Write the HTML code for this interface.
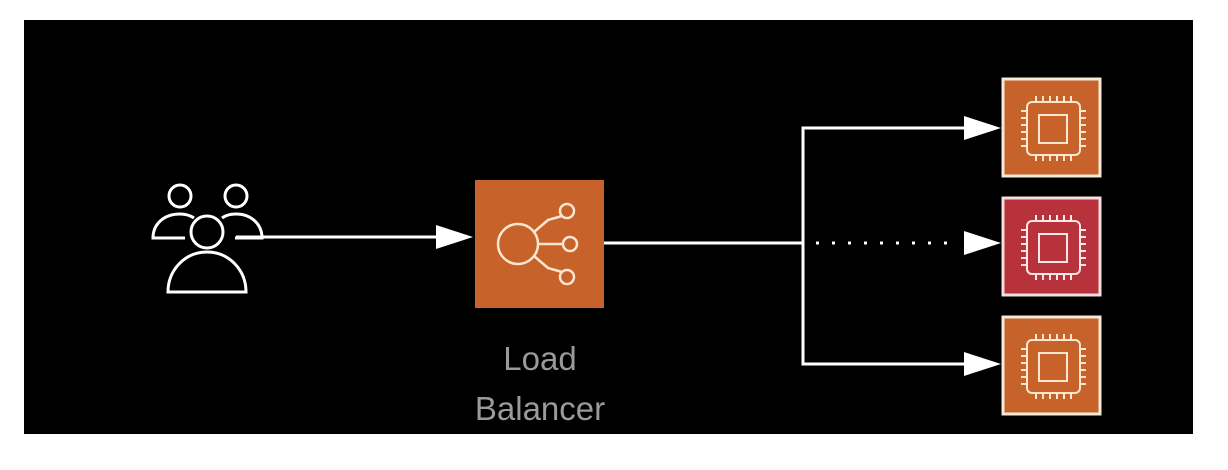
<!DOCTYPE html>
<html><head><style>
html,body{margin:0;padding:0;background:#fff;width:1228px;height:470px;overflow:hidden}
svg{display:block}
</style></head><body>
<svg width="1228" height="470" viewBox="0 0 1228 470" xmlns="http://www.w3.org/2000/svg">
<rect x="24" y="20" width="1169" height="414" fill="#000"/>
<!-- users -->
<g fill="none" stroke="#fff" stroke-width="3">
<circle cx="180" cy="196" r="11"/>
<circle cx="236" cy="196" r="11"/>
<path d="M185 238 L153 238 C153 224 164 214 180 214 C186 214 191 216 194 218"/>
<path d="M222 218 C226 215 230 214 236 214 C251 214 262 224 262 238 L235 238"/>
<circle cx="207" cy="232" r="16"/>
<path d="M168 292 L246 292 C246 270 229 252 207 252 C185 252 168 270 168 292 Z"/>
</g>
<line x1="236" y1="237" x2="440" y2="237" stroke="#fff" stroke-width="3"/>
<polygon points="436,225 473,237 436,249" fill="#fff"/>
<!-- LB -->
<rect x="475" y="180" width="129" height="128" fill="#c7622b"/>
<g fill="none" stroke="#fbe6cf" stroke-width="2.5">
<circle cx="518" cy="244" r="20"/>
<circle cx="567" cy="211" r="7"/>
<circle cx="570" cy="244" r="7"/>
<circle cx="567" cy="277" r="7"/>
<line x1="538" y1="244" x2="563" y2="244"/>
<path d="M534 232 L548 220 L562 216"/>
<path d="M534 256 L548 268 L562 272"/>
</g>
<text x="540" y="370" font-family="Liberation Sans, sans-serif" font-size="33" fill="#9a9a9a" text-anchor="middle">Load</text>
<text x="540" y="420" font-family="Liberation Sans, sans-serif" font-size="33" fill="#9a9a9a" text-anchor="middle">Balancer</text>
<!-- connectors -->
<g stroke="#fff" stroke-width="3" fill="none">
<line x1="604" y1="243" x2="804" y2="243"/>
<path d="M968 128 L803 128 L803 364 L968 364"/>
<line x1="816" y1="243" x2="955" y2="243" stroke-dasharray="3 13"/>
</g>
<polygon points="964,116 1001,128 964,140" fill="#fff"/>
<polygon points="964,231 1001,243 964,255" fill="#fff"/>
<polygon points="964,352 1001,364 964,376" fill="#fff"/>
<!-- ec2 -->
<defs>
<g id="chip">
<rect x="1027" y="102" width="53" height="53" rx="5"/>
<rect x="1039" y="115" width="28" height="28"/>
<path d="M1036 102v-6M1043 102v-6M1050 102v-6M1057 102v-6M1064 102v-6M1071 102v-6M1036 155v6M1043 155v6M1050 155v6M1057 155v6M1064 155v6M1071 155v6M1027 111h-6M1027 118h-6M1027 125h-6M1027 132h-6M1027 139h-6M1027 146h-6M1080 111h6M1080 118h6M1080 125h6M1080 132h6M1080 139h6M1080 146h6"/>
</g>
</defs>
<rect x="1003" y="79" width="97" height="97" fill="#c7622b" stroke="#f4ead8" stroke-width="3"/>
<use href="#chip" fill="none" stroke="#fbe6cf" stroke-width="2"/>
<rect x="1003" y="317" width="97" height="97" fill="#c7622b" stroke="#f4ead8" stroke-width="3"/>
<use href="#chip" y="238" fill="none" stroke="#fbe6cf" stroke-width="2"/>
<rect x="1003" y="198" width="97" height="97" fill="#b7323a" stroke="#f4dede" stroke-width="3"/>
<use href="#chip" y="119" fill="none" stroke="#fde6e6" stroke-width="2"/>
</svg>
</body></html>
